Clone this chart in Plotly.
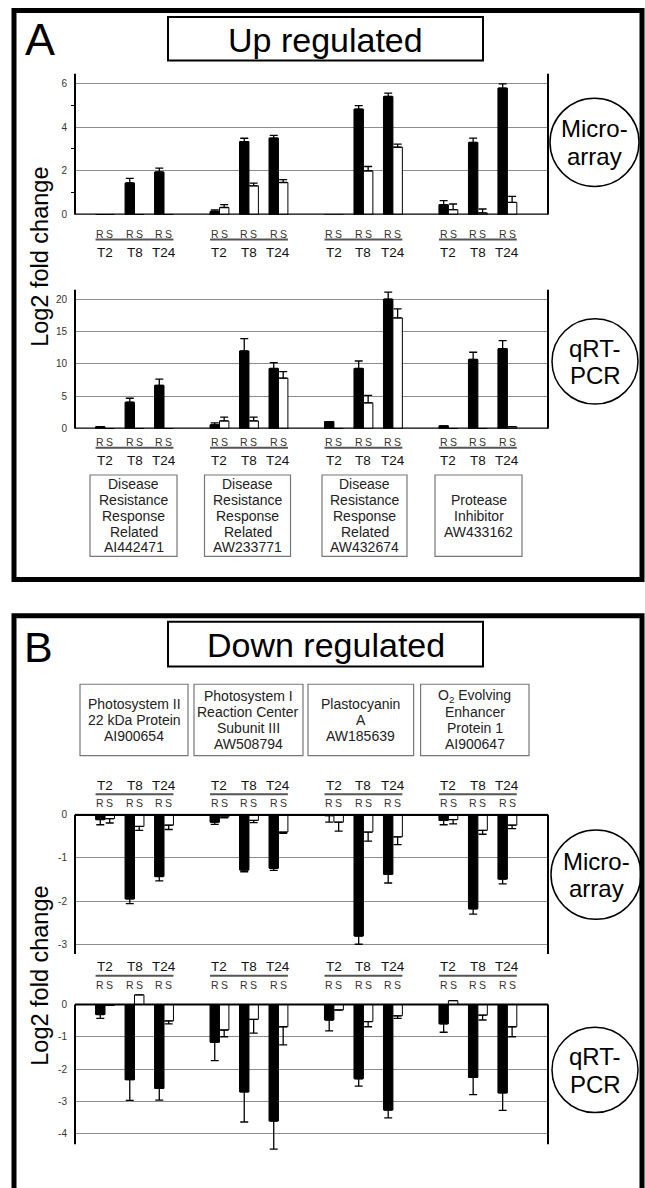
import plotly.graph_objects as go

W, H = 645, 1188
FONT = "Liberation Sans, Arial, Helvetica, sans-serif"

# ---------------- data ----------------
times = ["T2", "T8", "T24"]
series = ["R", "S"]

up_gene_labels = [
    ["Disease", "Resistance", "Response", "Related", "AI442471"],
    ["Disease", "Resistance", "Response", "Related", "AW233771"],
    ["Disease", "Resistance", "Response", "Related", "AW432674"],
    ["Protease", "Inhibitor", "AW433162"],
]
down_gene_labels = [
    ["Photosystem II", "22 kDa Protein", "AI900654"],
    ["Photosystem I", "Reaction Center", "Subunit III", "AW508794"],
    ["Plastocyanin", "A", "AW185639"],
    ["O<sub>2</sub> Evolving", "Enhancer", "Protein 1", "AI900647"],
]

# order: gene1 T2,T8,T24, gene2 T2,T8,T24, ...
up_micro_R = [0.0, 1.45, 1.95, 0.15, 3.34, 3.50, -0.08, 4.82, 5.40, 0.46, 3.30, 5.78]
up_micro_R_err = [0.0, 0.21, 0.18, 0.07, 0.15, 0.12, 0.20, 0.16, 0.15, 0.18, 0.20, 0.19]
up_micro_S = [0.0, 0.0, 0.0, 0.33, 1.32, 1.47, -0.03, 2.00, 3.08, 0.23, 0.08, 0.56]
up_micro_S_err = [0.0, 0.0, 0.0, 0.13, 0.12, 0.13, 0.25, 0.20, 0.14, 0.26, 0.18, 0.28]

up_qpcr_R = [0.3, 4.08, 6.7, 0.6, 12.0, 9.3, 1.1, 9.3, 20.0, 0.45, 10.7, 12.35]
up_qpcr_R_err = [0.0, 0.62, 0.95, 0.3, 1.9, 0.9, 0.0, 1.15, 1.1, 0.0, 1.1, 1.25]
up_qpcr_S = [0.0, 0.0, 0.0, 1.2, 1.2, 7.8, 0.0, 4.0, 17.1, 0.0, 0.0, 0.3]
up_qpcr_S_err = [0.0, 0.0, 0.0, 0.6, 0.6, 1.0, 0.0, 1.15, 1.4, 0.0, 0.0, 0.0]

down_micro_R = [-0.11, -1.95, -1.43, -0.17, -1.28, -1.24, -0.02, -2.81, -1.38, -0.13, -2.18, -1.49]
down_micro_R_err = [0.12, 0.11, 0.10, 0.05, 0.04, 0.05, 0.15, 0.19, 0.20, 0.10, 0.12, 0.11]
down_micro_S = [-0.09, -0.27, -0.24, -0.05, -0.13, -0.40, -0.17, -0.40, -0.51, -0.11, -0.36, -0.24]
down_micro_S_err = [0.10, 0.09, 0.10, 0.02, 0.05, 0.03, 0.21, 0.21, 0.18, 0.10, 0.09, 0.08]

down_qpcr_R = [-0.31, -2.33, -2.60, -1.17, -2.71, -3.61, -0.48, -2.30, -3.27, -0.60, -2.26, -2.74]
down_qpcr_R_err = [0.12, 0.64, 0.36, 0.57, 0.93, 0.87, 0.34, 0.23, 0.24, 0.26, 0.53, 0.54]
down_qpcr_S = [-0.03, 0.30, -0.51, -0.79, -0.46, -0.69, -0.17, -0.53, -0.35, 0.12, -0.33, -0.69]
down_qpcr_S_err = [0.0, 0.0, 0.09, 0.21, 0.43, 0.56, 0.0, 0.16, 0.08, 0.0, 0.15, 0.31]

up_micro_ticks = [0, 2, 4, 6]
up_qpcr_ticks = [0, 5, 10, 15, 20]
down_micro_ticks = [0, -1, -2, -3]
down_qpcr_ticks = [0, -1, -2, -3, -4]

# ---------------- layout helpers ----------------
GROUP_STEP = 3.88
BAR_W = 0.32
X_RANGE = [-1.017, 15.017]
PLOT_X = (75, 548)


def pos(i):
    g, t = divmod(i, 3)
    return g * GROUP_STEP + t


def py(y):
    return 1 - y / H


def pxx(x):
    return x / W


def err_arrays(vals, errs):
    plus = [e if v >= 0 else 0 for v, e in zip(vals, errs)]
    minus = [e if v < 0 else 0 for v, e in zip(vals, errs)]
    return plus, minus


charts = [
    dict(R=up_micro_R, Re=up_micro_R_err, S=up_micro_S, Se=up_micro_S_err,
         top=70, bottom=212.5, yrange=[0, 6.45], ticks=up_micro_ticks, minor=[1, 3, 5],
         vline=(0, 6.45), rs_y=232, line_y=237.5, t_y=251),
    dict(R=up_qpcr_R, Re=up_qpcr_R_err, S=up_qpcr_S, Se=up_qpcr_S_err,
         top=288, bottom=428.3, yrange=[0, 21.48], ticks=up_qpcr_ticks, minor=None,
         vline=(0, 21.48), rs_y=442, line_y=447.5, t_y=460.5),
    dict(R=down_micro_R, Re=down_micro_R_err, S=down_micro_S, Se=down_micro_S_err,
         top=816.4, bottom=958, yrange=[-3.225, 0.03], ticks=down_micro_ticks, minor=None,
         vline=(-3.225, 0), rs_y=806, line_y=797, t_y=788),
    dict(R=down_qpcr_R, Re=down_qpcr_R_err, S=down_qpcr_S, Se=down_qpcr_S_err,
         top=997.6, bottom=1157.1, yrange=[-4.55, 0.35], ticks=down_qpcr_ticks, minor=None,
         vline=(-4.332, 0), rs_y=989, line_y=980, t_y=971),
]

fig = go.Figure()
shapes = []
annotations = []
layout_axes = {}

for k, c in enumerate(charts, start=1):
    xn = "x" if k == 1 else f"x{k}"
    yn = "y" if k == 1 else f"y{k}"
    xs = [pos(i) for i in range(12)]
    rp, rm = err_arrays(c["R"], c["Re"])
    sp, sm = err_arrays(c["S"], c["Se"])
    fig.add_trace(go.Bar(
        x=xs, y=c["R"], width=BAR_W, offset=-BAR_W, xaxis=xn, yaxis=yn,
        marker=dict(color="black", line=dict(color="black", width=1)),
        error_y=dict(type="data", symmetric=False, array=rp, arrayminus=rm,
                     color="black", thickness=1.3, width=4),
        name="R", showlegend=False, hoverinfo="skip"))
    fig.add_trace(go.Bar(
        x=xs, y=c["S"], width=BAR_W, offset=0, xaxis=xn, yaxis=yn,
        marker=dict(color="white", line=dict(color="black", width=1)),
        error_y=dict(type="data", symmetric=False, array=sp, arrayminus=sm,
                     color="black", thickness=1.3, width=4),
        name="S", showlegend=False, hoverinfo="skip"))

    xa = "xaxis" if k == 1 else f"xaxis{k}"
    ya = "yaxis" if k == 1 else f"yaxis{k}"
    layout_axes[xa] = dict(domain=[pxx(PLOT_X[0]), pxx(PLOT_X[1])], range=X_RANGE,
                           anchor=yn, showgrid=False, zeroline=False, showline=False,
                           showticklabels=False, ticks="", fixedrange=True)
    yax = dict(domain=[py(c["bottom"]), py(c["top"])], range=c["yrange"], anchor=xn,
               tickvals=c["ticks"], ticktext=[str(t) for t in c["ticks"]],
               ticks="outside", ticklen=5, tickcolor="rgba(0,0,0,0)",
               showgrid=True, gridcolor="#8c8c8c", gridwidth=1.2,
               zeroline=False, showline=False,
               tickfont=dict(size=10, color="#333", family=FONT), fixedrange=True)
    if c["minor"]:
        yax["minor"] = dict(tickvals=c["minor"], ticks="outside", ticklen=3,
                            tickcolor="black", tickwidth=1.2, showgrid=False)
    layout_axes[ya] = yax

    # axis frame lines
    for xd in (0, 1):
        shapes.append(dict(type="line", xref=f"{xn} domain", yref=yn, x0=xd, x1=xd,
                           y0=c["vline"][0], y1=c["vline"][1],
                           line=dict(color="black", width=2)))
    shapes.append(dict(type="line", xref=f"{xn} domain", yref=yn, x0=0, x1=1,
                       y0=0, y1=0, line=dict(color="black", width=2.2)))

    # R/S and time labels
    for i in range(12):
        for s, off in zip(series, (-BAR_W / 2, BAR_W / 2)):
            annotations.append(dict(x=pos(i) + off, y=py(c["rs_y"]), xref=xn, yref="paper",
                                    text=s, showarrow=False, xanchor="center", yanchor="middle",
                                    font=dict(size=10.5, color="#333", family=FONT)))
        annotations.append(dict(x=pos(i), y=py(c["t_y"]), xref=xn, yref="paper",
                                text=times[i % 3], showarrow=False, xanchor="center",
                                yanchor="middle", font=dict(size=13.5, color="#111", family=FONT)))
    for g in range(4):
        shapes.append(dict(type="line", xref=xn, yref="paper",
                           x0=pos(3 * g) - BAR_W, x1=pos(3 * g + 2) + BAR_W,
                           y0=py(c["line_y"]), y1=py(c["line_y"]),
                           line=dict(color="#555", width=2)))

fig.update_layout(**layout_axes)

# panel borders
shapes.append(dict(type="rect", xref="paper", yref="paper", x0=pxx(14), x1=pxx(642),
                   y0=py(6.5), y1=py(580.5), line=dict(color="black", width=5)))
shapes.append(dict(type="rect", xref="paper", yref="paper", x0=pxx(14), x1=pxx(642),
                   y0=py(617), y1=py(1205), line=dict(color="black", width=5)))

# title boxes
for (y0, y1, txt) in [(13, 57, "Up regulated"), (623, 668, "Down regulated")]:
    shapes.append(dict(type="rect", xref="paper", yref="paper", x0=pxx(168), x1=pxx(483),
                       y0=py(y0), y1=py(y1), line=dict(color="black", width=2)))
    annotations.append(dict(x=pxx(325.5), y=py((y0 + y1) / 2 + 1), xref="paper", yref="paper",
                            text=txt, showarrow=False, xanchor="center", yanchor="middle",
                            font=dict(size=34, color="black", family=FONT)))

# panel letters
annotations.append(dict(x=pxx(40), y=py(36), xref="paper", yref="paper", text="A",
                        showarrow=False, xanchor="center", yanchor="middle",
                        font=dict(size=45, color="black", family=FONT)))
annotations.append(dict(x=pxx(38), y=py(648), xref="paper", yref="paper", text="B",
                        showarrow=False, xanchor="center", yanchor="middle",
                        font=dict(size=43, color="black", family=FONT)))

# y-axis titles
for yc in (255, 980):
    annotations.append(dict(x=pxx(40), y=py(yc), xref="paper", yref="paper",
                            text="Log2 fold change", textangle=-90, showarrow=False,
                            xanchor="center", yanchor="middle",
                            font=dict(size=23.5, color="black", family=FONT)))

# method circles
circles = [(594.5, 139.5, 44.5, ["Micro-", "array"]),
           (595, 360.5, 43, ["qRT-", "PCR"]),
           (596, 878, 45, ["Micro-", "array"]),
           (595, 1075, 43, ["qRT-", "PCR"])]
for cx, cy, r, lines in circles:
    shapes.append(dict(type="circle", xref="paper", yref="paper",
                       x0=pxx(cx - r), x1=pxx(cx + r), y0=py(cy + r), y1=py(cy - r),
                       line=dict(color="black", width=1.5)))
    for j, ln in enumerate(lines):
        annotations.append(dict(x=pxx(cx), y=py(cy - 13.5 + 28 * j), xref="paper", yref="paper",
                                text=ln, showarrow=False, xanchor="center", yanchor="middle",
                                font=dict(size=24, color="black", family=FONT)))

# gene boxes
up_boxes_x = [(90, 177), (204.5, 290.5), (322, 407), (435, 522)]
down_boxes_x = [(80, 188), (194, 303), (308, 413.6), (420.6, 529)]
for boxes_x, labels, (by0, by1) in [(up_boxes_x, up_gene_labels, (475, 557)),
                                     (down_boxes_x, down_gene_labels, (686, 758))]:
    for (bx0, bx1), lab in zip(boxes_x, labels):
        shapes.append(dict(type="rect", xref="paper", yref="paper", x0=pxx(bx0), x1=pxx(bx1),
                           y0=py(by0), y1=py(by1), line=dict(color="#777", width=1.2)))
        cy = (by0 + by1) / 2
        n = len(lab)
        for j, ln in enumerate(lab):
            yy = cy + (j - (n - 1) / 2) * 16
            annotations.append(dict(x=pxx((bx0 + bx1) / 2), y=py(yy), xref="paper", yref="paper",
                                    text=ln, showarrow=False, xanchor="center", yanchor="middle",
                                    font=dict(size=14, color="#222", family=FONT)))

fig.update_layout(
    width=W, height=H, margin=dict(l=0, r=0, t=0, b=0),
    paper_bgcolor="white", plot_bgcolor="rgba(0,0,0,0)",
    barmode="overlay", showlegend=False,
    font=dict(family=FONT, color="black"),
    shapes=shapes, annotations=annotations,
)

fig.write_html("out.html")
